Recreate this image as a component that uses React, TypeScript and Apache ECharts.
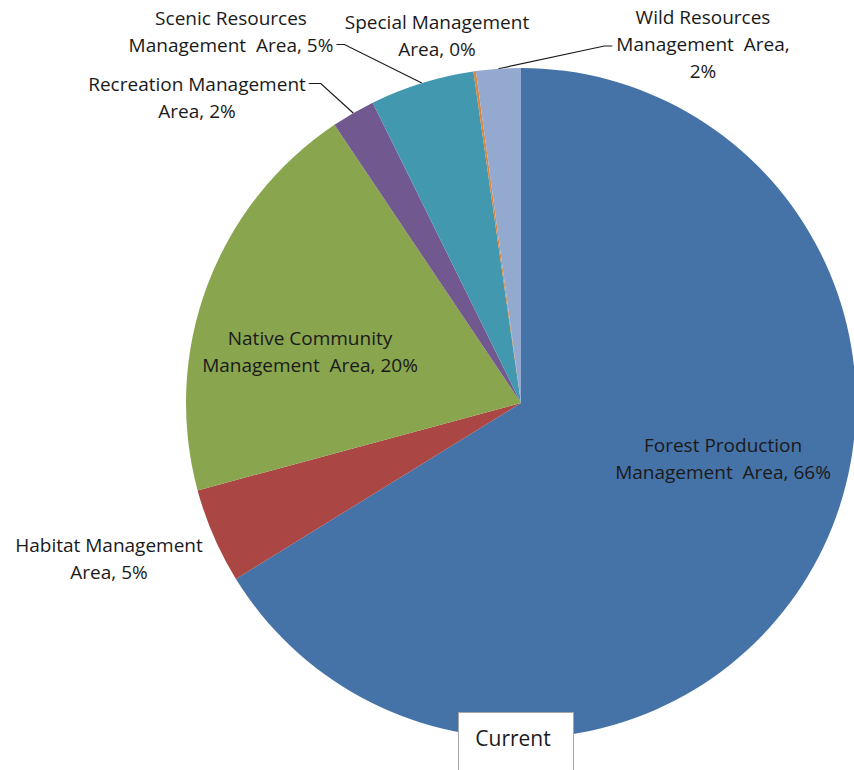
import React, { useEffect, useRef } from "react";
import * as echarts from "echarts";

const categories = [
  "Forest Production\nManagement  Area",
  "Habitat Management\nArea",
  "Native Community\nManagement  Area",
  "Recreation Management\nArea",
  "Scenic Resources\nManagement  Area",
  "Special Management\nArea",
  "Wild Resources\nManagement  Area,\n",
];
const values = [66.2, 4.6, 19.8, 2.1, 5.03, 0.12, 2.15];
const colors = ["#4572A7", "#AA4643", "#89A54E", "#71588F", "#4198AF", "#DB843D", "#93A9CF"];
const chartTitle = "Current";

// label centres (layout)
const labelPos: number[][] = [
  [723, 458],
  [109, 558],
  [310, 351],
  [197, 97],
  [231, 31],
  [437, 35],
  [703, 44],
];
// leader line attachment: "" none, "rb" right of last line, "rt" right of first line, "lm" left of middle line
const leaderMode = ["", "", "", "rt", "rb", "", "lm"];
const LH = 27;
const FONT = "Open Sans";

export default function App() {
  const ref = useRef<HTMLDivElement>(null);
  useEffect(() => {
    if (!ref.current) return;
    const chart = echarts.init(ref.current, null, { renderer: "svg" });
    const data = categories.map((name, i) => ({
      name,
      value: values[i],
      itemStyle: { color: colors[i] },
      labelLine: { show: leaderMode[i] !== "" },
    }));
    chart.setOption({
      animation: false,
      backgroundColor: "#ffffff",
      graphic: [
        {
          type: "group",
          z: 100,
          children: [
            {
              type: "rect",
              shape: { x: 458.5, y: 712.5, width: 115, height: 80 },
              style: { fill: "#ffffff", stroke: "#a6a6a6", lineWidth: 1 },
              z: 100,
            },
            {
              type: "text",
              x: 513,
              y: 738,
              style: {
                text: chartTitle,
                fill: "#1a1a1a",
                font: "21px 'Open Sans'",
                align: "center",
                verticalAlign: "middle",
              },
              z: 101,
            },
          ],
        },
      ],
      series: [
        {
          type: "pie",
          center: [521, 403],
          radius: 335,
          startAngle: 90,
          clockwise: true,
          avoidLabelOverlap: false,
          emphasis: { disabled: true },
          data,
          label: {
            show: true,
            position: "outside",
            color: "#1a1a1a",
            fontFamily: FONT,
            fontSize: 19,
            lineHeight: LH,
            formatter: (p: any) => {
              const name: string = p.name;
              const pct = Math.round(p.percent) + "%";
              return name.endsWith("\n") ? name + pct : name + ", " + pct;
            },
          },
          labelLine: {
            show: true,
            lineStyle: { color: "#1a1a1a", width: 1.2 },
          },
          labelLayout: (p: any) => {
            const i = p.dataIndex;
            const [cx, cy] = labelPos[i];
            const w = p.labelRect.width;
            const h = p.labelRect.height;
            const res: any = { x: cx, y: cy, align: "center", verticalAlign: "middle" };
            const mode = leaderMode[i];
            const anchor = p.labelLinePoints && p.labelLinePoints[0];
            if (anchor && mode) {
              let ex = 0, ey = 0, bx = 0;
              if (mode === "rb") {
                ex = cx + w / 2 + 3;
                ey = cy + h / 2 - LH / 2;
                bx = ex + 8;
              } else if (mode === "rt") {
                ex = cx + w / 2 + 3;
                ey = cy - h / 2 + LH / 2;
                bx = ex + 12;
              } else {
                ex = cx - w / 2 - 4;
                ey = cy + 2;
                bx = ex - 8;
              }
              res.labelLinePoints = [anchor, [bx, ey], [ex, ey]];
            }
            return res;
          },
        },
      ],
    });
    return () => chart.dispose();
  }, []);
  return (
    <div
      ref={ref}
      style={{ position: "absolute", left: 0, top: 0, width: 854, height: 770 }}
    />
  );
}
